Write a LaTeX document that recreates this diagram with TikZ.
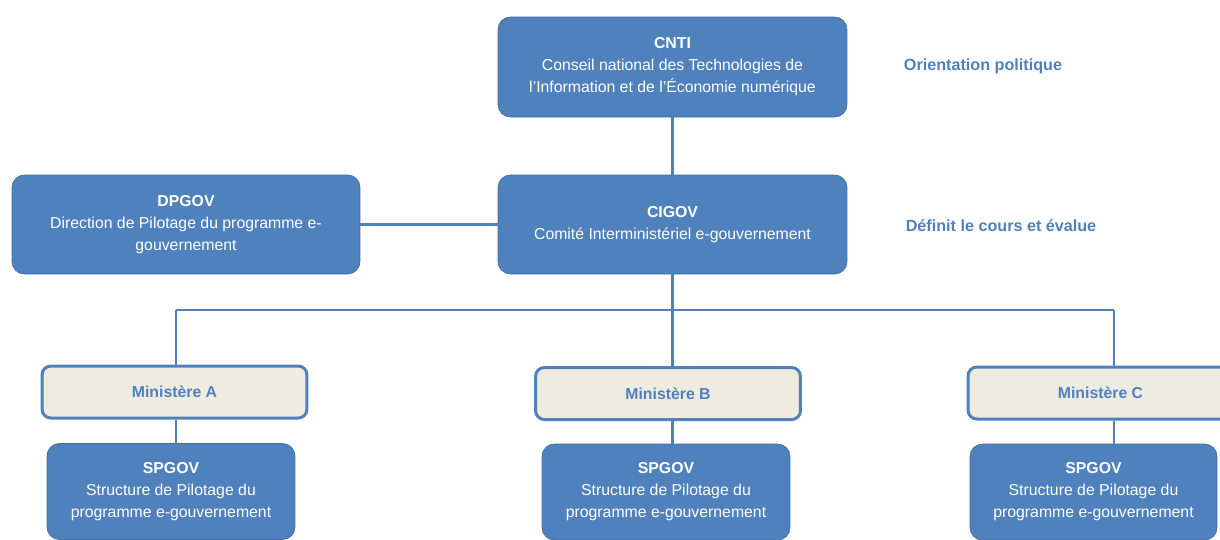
\documentclass[tikz,border=0pt]{standalone}
\usepackage{fontspec}
\setmainfont{Liberation Sans}
\definecolor{boxblue}{HTML}{4F81BD}
\definecolor{minfill}{HTML}{EEECE1}

\begin{document}
\begin{tikzpicture}[
    x=0.02cm,
    y=-0.02cm,
    bluebox/.style={draw=boxblue!85!black,line width=.4pt,fill=boxblue,rounded corners=7pt,
      text=white,align=center,font=\fontsize{9}{12.5}\selectfont},
    minbox/.style={draw=boxblue,line width=1.7pt,fill=minfill,rounded corners=5pt,
      text=boxblue,font=\fontsize{9}{11}\selectfont\bfseries,
      minimum width=5.3cm,minimum height=1.04cm},
    link/.style={draw=boxblue,line width=1.4pt},
    note/.style={text=boxblue,font=\fontsize{9.2}{11}\selectfont\bfseries},
  ]
  \useasboundingbox (0,0) rectangle (1220,539);
  \clip (0,0) rectangle (1220,539);

  % top level
  \node[bluebox,minimum width=6.98cm,minimum height=2cm] (cnti) at (672.5,67)
    {\textbf{CNTI}\\Conseil national des Technologies de\\l’Information et de l’Économie numérique};
  \node[bluebox,minimum width=6.98cm,minimum height=1.98cm] (cigov) at (672.5,224.5)
    {\textbf{CIGOV}\\Comité Interministériel e-gouvernement};
  \node[bluebox,minimum width=6.96cm,minimum height=1.98cm] (dpgov) at (186,224.5)
    {\textbf{DPGOV}\\Direction de Pilotage du programme e-\\gouvernement};

  \node[note] (orient) at (983,66) {Orientation politique};
  \node[note] (defin) at (1001,226) {Définit le cours et évalue};

  % ministries
  \node[minbox] (mina) at (174.5,392) {Ministère A};
  \node[minbox] (minb) at (668,393.5) {Ministère B};
  \node[minbox] (minc) at (1100.5,393) {Ministère C};

  \node[bluebox,minimum width=4.96cm,minimum height=1.92cm] (spa) at (171,491.5)
    {\textbf{SPGOV}\\Structure de Pilotage du\\programme e-gouvernement};
  \node[bluebox,minimum width=4.96cm,minimum height=1.92cm] (spb) at (666,492)
    {\textbf{SPGOV}\\Structure de Pilotage du\\programme e-gouvernement};
  \node[bluebox,minimum width=4.94cm,minimum height=1.92cm] (spc) at (1093.5,492)
    {\textbf{SPGOV}\\Structure de Pilotage du\\programme e-gouvernement};

  % connectors
  \coordinate (ta) at (176,310);
  \coordinate (tb) at (672.5,310);
  \coordinate (tc) at (1114,310);

  \draw[link] (cnti) -- (cigov);
  \draw[link] (dpgov) -- (cigov);
  \draw[link] (cigov) -- (tb);
  \draw[link] (ta) -- (tc);
  \draw[link] (ta) -- (ta |- mina.north);
  \draw[link] (tb) -- (tb |- minb.north);
  \draw[link] (tc) -- (tc |- minc.north);
  \draw[link] (ta |- mina.south) -- (ta |- spa.north);
  \draw[link] (tb |- minb.south) -- (tb |- spb.north);
  \draw[link] (tc |- minc.south) -- (tc |- spc.north);
\end{tikzpicture}
\end{document}
